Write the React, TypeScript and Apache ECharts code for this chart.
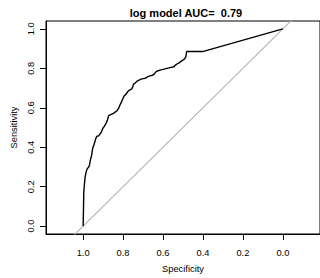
import React, { useEffect, useRef } from "react";
import * as echarts from "echarts";

const specificity = [
  1.0, 0.998, 0.997, 0.993, 0.99, 0.985, 0.98, 0.972, 0.968, 0.964, 0.958, 0.952, 0.945, 0.938,
  0.932, 0.922, 0.915, 0.908, 0.902, 0.893, 0.885, 0.879, 0.872, 0.862, 0.851, 0.84, 0.83, 0.822,
  0.815, 0.808, 0.8, 0.795, 0.786, 0.778, 0.768, 0.758, 0.752, 0.748, 0.74, 0.73, 0.72, 0.71, 0.7,
  0.688, 0.676, 0.665, 0.652, 0.643, 0.636, 0.625, 0.61, 0.595, 0.58, 0.56, 0.545, 0.54, 0.53,
  0.52, 0.51, 0.5, 0.492, 0.486, 0.484, 0.482, 0.402, 0.0,
];
const sensitivity = [
  0.0, 0.1, 0.17, 0.22, 0.249, 0.275, 0.29, 0.3, 0.31, 0.335, 0.357, 0.395, 0.415, 0.44, 0.455,
  0.458, 0.468, 0.478, 0.495, 0.507, 0.522, 0.535, 0.56, 0.565, 0.57, 0.578, 0.585, 0.598, 0.615,
  0.63, 0.648, 0.66, 0.668, 0.68, 0.69, 0.695, 0.705, 0.72, 0.725, 0.735, 0.74, 0.745, 0.748, 0.75,
  0.758, 0.762, 0.765, 0.772, 0.782, 0.788, 0.792, 0.796, 0.8, 0.805, 0.808, 0.815, 0.822, 0.828,
  0.835, 0.842, 0.848, 0.858, 0.87, 0.885, 0.885, 1.0,
];
const diagonalSpec = [1.3, -0.3];
const diagonalSens = [-0.3, 1.3];
const tickValues = [0, 0.2, 0.4, 0.6, 0.8, 1.0];
const titleText = "log model AUC=  0.79";

const FONT = "Liberation Sans, Arial, Helvetica, sans-serif";

export default function App() {
  const ref = useRef<HTMLDivElement>(null);
  useEffect(() => {
    document.body.style.margin = "0";
    if (!ref.current) return;
    const chart = echarts.init(ref.current, null, { renderer: "svg" });
    const curve = specificity.map((s, i) => [s, sensitivity[i]]);
    const diag = diagonalSpec.map((s, i) => [s, diagonalSens[i]]);
    chart.setOption({
      animation: false,
      backgroundColor: "#ffffff",
      textStyle: { fontFamily: FONT },
      grid: {
        left: 46,
        top: 21,
        right: -1.3,
        bottom: 40.3,
        show: true,
        borderColor: "#000",
        borderWidth: 1,
        containLabel: false,
      },
      graphic: [
        {
          type: "text",
          x: 186,
          y: 12.7,
          style: {
            text: titleText,
            fontFamily: FONT,
            fontSize: 11,
            fontWeight: "bold",
            fill: "#000",
            textAlign: "center",
            textVerticalAlign: "middle",
          },
        },
      ],
      xAxis: {
        type: "value",
        inverse: true,
        min: -0.186,
        max: 1.186,
        splitLine: { show: false },
        axisLine: { show: true, onZero: false, lineStyle: { color: "#000", width: 1 } },
        axisTick: { show: true, length: 6, customValues: tickValues, lineStyle: { color: "#000" } },
        axisLabel: {
          customValues: tickValues,
          formatter: (v: number) => v.toFixed(1),
          fontSize: 9.3,
          color: "#000",
          margin: 14,
          fontFamily: FONT,
        },
        name: "Specificity",
        nameLocation: "middle",
        nameGap: 30,
        nameTextStyle: { fontSize: 9.3, color: "#000", fontFamily: FONT },
      },
      yAxis: {
        type: "value",
        min: -0.04,
        max: 1.04,
        splitLine: { show: false },
        axisLine: { show: true, onZero: false, lineStyle: { color: "#000", width: 1 } },
        axisTick: { show: true, length: 6, customValues: tickValues, lineStyle: { color: "#000" } },
        axisLabel: {
          customValues: tickValues,
          formatter: (v: number) => v.toFixed(1),
          fontSize: 9.3,
          color: "#000",
          rotate: 90,
          margin: 11,
          fontFamily: FONT,
        },
        name: "Sensitivity",
        nameLocation: "middle",
        nameGap: 28,
        nameTextStyle: { fontSize: 9.3, color: "#000", fontFamily: FONT },
      },
      series: [
        {
          type: "line",
          data: diag,
          symbol: "none",
          clip: true,
          silent: true,
          lineStyle: { color: "#b4b4b4", width: 1.1 },
        },
        {
          type: "line",
          data: curve,
          symbol: "none",
          clip: true,
          silent: true,
          lineStyle: { color: "#000", width: 1.4 },
        },
      ],
    });
    return () => chart.dispose();
  }, []);
  return <div ref={ref} style={{ width: 320, height: 278 }} />;
}
